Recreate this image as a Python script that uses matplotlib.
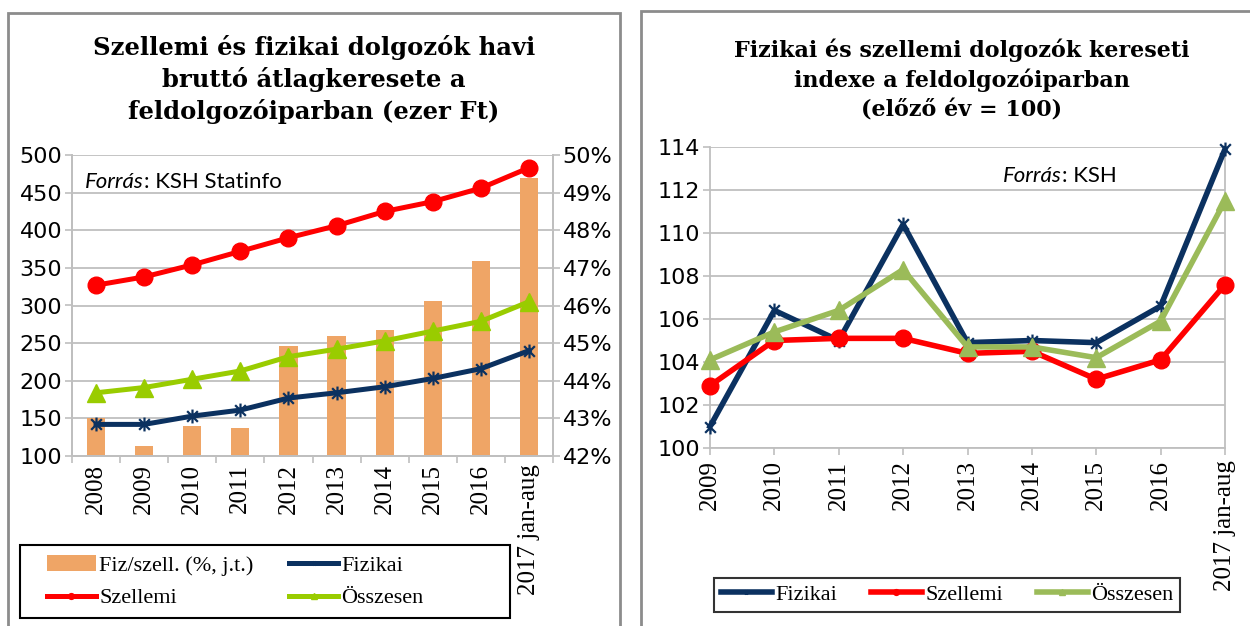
import matplotlib
matplotlib.use("Agg")
import matplotlib.pyplot as plt
import matplotlib.patches as mpatches
from matplotlib.path import Path

# left chart data (ezer Ft, ratio in %)
years_left = ["2008", "2009", "2010", "2011", "2012", "2013", "2014", "2015", "2016", "2017 jan-aug"]
szellemi = [327, 338, 354, 372, 390, 406, 425, 438, 456, 483]
osszesen = [184, 191, 202, 213, 232, 242, 253, 266, 279, 305]
fizikai = [142, 142, 153, 161, 177, 184, 192, 203, 216, 240]
ratio = [43.0, 42.26, 42.8, 42.74, 44.92, 45.18, 45.34, 46.12, 47.18, 49.4]

# right chart data (previous year = 100)
years_right = ["2009", "2010", "2011", "2012", "2013", "2014", "2015", "2016", "2017 jan-aug"]
fiz_idx = [101.0, 106.4, 105.0, 110.4, 104.9, 105.0, 104.9, 106.6, 113.9]
szell_idx = [102.9, 105.0, 105.1, 105.1, 104.4, 104.5, 103.2, 104.1, 107.6]
ossz_idx = [104.1, 105.4, 106.4, 108.3, 104.7, 104.7, 104.2, 105.9, 111.5]

NAVY = "#0B3160"
RED = "#FF0000"
GREEN_L = "#99CC00"
GREEN_R = "#9BBB59"
ORANGE = "#EFA566"
GRID = "#BFBFBF"

star = Path([(-1, -1), (1, 1), (-1, 1), (1, -1), (0, -1.3), (0, 1.3)],
            [Path.MOVETO, Path.LINETO, Path.MOVETO, Path.LINETO, Path.MOVETO, Path.LINETO])

fig = plt.figure(figsize=(12.5, 6.26), dpi=100)
W, H = 1250, 626

def fx(px):
    return px / W

def fy(py):
    return 1 - py / H

def box(x0, y0, x1, y1, color, lw):
    fig.patches.append(mpatches.Rectangle((fx(x0), fy(y1)), fx(x1) - fx(x0), fy(y0) - fy(y1),
                                          transform=fig.transFigure, fill=False,
                                          edgecolor=color, lw=lw))

# panel frames
box(8, 13, 620, 700, "#8C8C8C", 2)
box(641, 11, 1400, 700, "#8C8C8C", 2)

title_l = dict(family="DejaVu Serif", weight="bold", fontsize=17.5, color="black")
title_r = dict(family="DejaVu Serif", weight="bold", fontsize=16, color="black")
fig.text(fx(314), fy(48), "Szellemi és fizikai dolgozók havi", ha="center", va="center", **title_l)
fig.text(fx(314), fy(79), "bruttó átlagkeresete a", ha="center", va="center", **title_l)
fig.text(fx(314), fy(111), "feldolgozóiparban (ezer Ft)", ha="center", va="center", **title_l)
fig.text(fx(962), fy(50), "Fizikai és szellemi dolgozók kereseti", ha="center", va="center", **title_r)
fig.text(fx(962), fy(80), "indexe a feldolgozóiparban", ha="center", va="center", **title_r)
fig.text(fx(962), fy(111), "(előző év = 100)", ha="center", va="center", **title_r)

leg_font = {"family": "Liberation Serif", "size": 16}

# ---------- left chart ----------
ax = fig.add_axes([fx(72), fy(456), fx(553) - fx(72), fy(155) - fy(456)])
ax2 = ax.twinx()
x = list(range(len(years_left)))

ax2.bar(x, ratio, width=0.38, color=ORANGE, zorder=1, label="Fiz/szell. (%, j.t.)")
ax2.set_ylim(42, 50)
ax2.set_yticks(range(42, 51))
ax2.set_yticklabels([f"{v}%" for v in range(42, 51)])

ax.set_zorder(ax2.get_zorder() + 1)
ax.patch.set_visible(False)
ax.plot(x, fizikai, color=NAVY, lw=3.6, marker=star, ms=10, mew=1.6, label="Fizikai", zorder=4)
ax.plot(x, szellemi, color=RED, lw=3.6, marker="o", ms=12, label="Szellemi", zorder=4)
ax.plot(x, osszesen, color=GREEN_L, lw=3.6, marker="^", ms=13, label="Összesen", zorder=4)
ax.set_ylim(100, 500)
ax.set_yticks(range(100, 501, 50))
ax.set_xlim(-0.5, len(x) - 0.5)
ax.set_xticks(x)
ax.set_xticklabels(years_left, rotation=90, family="Liberation Serif", fontsize=18)
ax.set_xticks([i + 0.5 for i in range(-1, len(x))], minor=True)
ax.tick_params(axis="x", which="major", length=0, pad=6)
ax.tick_params(axis="x", which="minor", length=5, color=GRID, width=1.2)
for gy in range(100, 501, 50):
    ax2.axhline(42 + (gy - 100) / 50, color=GRID, lw=1.3, zorder=0)
ax.tick_params(axis="y", labelsize=16, length=5, color=GRID, width=1.2, pad=2)
ax2.tick_params(axis="y", labelsize=16, length=5, color=GRID, width=1.2, pad=2)
for a in (ax, ax2):
    for s in a.spines.values():
        s.set_color(GRID)
        s.set_linewidth(1.3)
    a.spines["top"].set_visible(False)

t1 = ax.text(0.027, 0.91, "Forrás", transform=ax.transAxes, family="Lato",
             style="italic", fontsize=16, va="center")
fig.canvas.draw()
bb = t1.get_window_extent().transformed(ax.transAxes.inverted())
ax.text(bb.x1, 0.91, ": KSH Statinfo", transform=ax.transAxes, family="Lato",
        fontsize=16, va="center")

h1, l1 = ax.get_legend_handles_labels()
h2, l2 = ax2.get_legend_handles_labels()
leg = fig.legend([h2[0], h1[1], h1[0], h1[2]],
                 ["Fiz/szell. (%, j.t.)", "Szellemi", "Fizikai", "Összesen"],
                 ncol=2, loc="upper left", bbox_to_anchor=(fx(47), fy(555)),
                 frameon=False, prop=leg_font, handlelength=2.2, borderaxespad=0,
                 handletextpad=0.15, borderpad=0, labelspacing=0.55,
                 columnspacing=1.6, markerscale=0.35)
box(20, 545, 510, 618, "black", 1.5)

# ---------- right chart ----------
bx = fig.add_axes([fx(710), fy(448), fx(1225) - fx(710), fy(147) - fy(448)])
xr = list(range(len(years_right)))
bx.plot(xr, fiz_idx, color=NAVY, lw=4, marker=star, ms=10, mew=1.6, label="Fizikai",
        zorder=3, clip_on=False)
bx.plot(xr, szell_idx, color=RED, lw=4, marker="o", ms=12, label="Szellemi",
        zorder=4, clip_on=False)
bx.plot(xr, ossz_idx, color=GREEN_R, lw=4, marker="^", ms=13, label="Összesen",
        zorder=5, clip_on=False)
bx.set_ylim(100, 114)
bx.set_yticks(range(100, 115, 2))
bx.set_xlim(0, len(xr) - 1)
bx.set_xticks(xr)
bx.set_xticklabels(years_right, rotation=90, family="Liberation Serif", fontsize=18)
bx.tick_params(axis="x", length=5, color=GRID, width=1.2, pad=4)
bx.tick_params(axis="y", labelsize=16, length=5, color=GRID, width=1.2, pad=2)
bx.grid(axis="y", color=GRID, lw=1.3)
bx.set_axisbelow(True)
for s in bx.spines.values():
    s.set_color(GRID)
    s.set_linewidth(1.3)
bx.spines["top"].set_visible(False)

t2 = bx.text(0.569, 0.905, "Forrás", transform=bx.transAxes, family="Lato",
             style="italic", fontsize=16, va="center")
fig.canvas.draw()
bb2 = t2.get_window_extent().transformed(bx.transAxes.inverted())
bx.text(bb2.x1, 0.905, ": KSH", transform=bx.transAxes, family="Lato",
        fontsize=16, va="center")

leg2 = fig.legend(*bx.get_legend_handles_labels(), ncol=3, loc="upper left",
                  bbox_to_anchor=(fx(714), fy(615), fx(1180) - fx(714), fy(578) - fy(615)),
                  mode="expand", frameon=True, fancybox=False, edgecolor="black",
                  prop=leg_font, handlelength=2.3, borderaxespad=0,
                  handletextpad=0.15, borderpad=0.3, markerscale=0.35)
leg2.get_frame().set_linewidth(1.5)

fig.savefig("out.png", dpi=100)
